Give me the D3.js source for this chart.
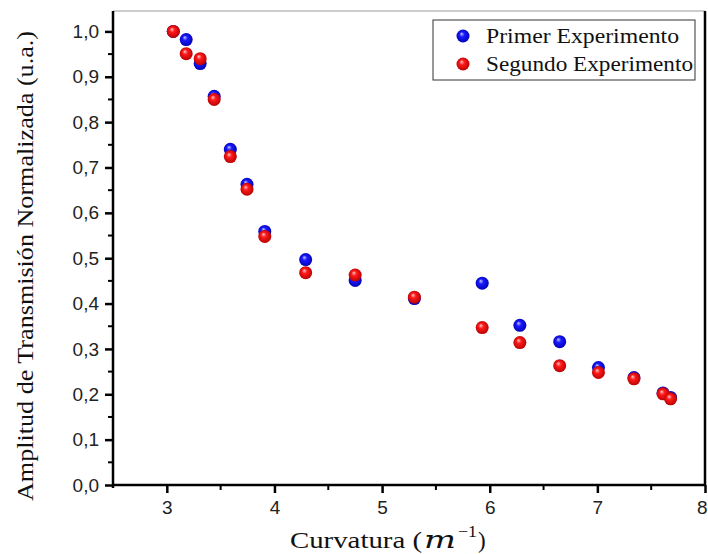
<!DOCTYPE html>
<html>
<head>
<meta charset="utf-8">
<script src="https://cdn.jsdelivr.net/npm/d3@7"></script>
<style>
  body { margin: 0; background: #fff; }
  .tick text { font-family: "Liberation Sans", Arial, sans-serif; font-size: 19px; fill: #222; }
  .axis-label { font-family: "Liberation Serif", "DejaVu Serif", serif; font-size: 23px; fill: #111; }
  .legend-text { font-family: "Liberation Serif", "DejaVu Serif", serif; font-size: 20px; fill: #111; }
</style>
</head>
<body>
<svg width="708" height="554"></svg>
<script>
const curvatura = [3.06, 3.18, 3.31, 3.44, 3.59, 3.745, 3.91, 4.29, 4.75, 5.30, 5.93, 6.28, 6.65, 7.01, 7.34, 7.61, 7.68];
const primer    = [1.000, 0.982, 0.929, 0.857, 0.740, 0.663, 0.559, 0.497, 0.451, 0.411, 0.445, 0.352, 0.316, 0.259, 0.237, 0.203, 0.193];
const segundo   = [1.000, 0.951, 0.940, 0.850, 0.724, 0.652, 0.548, 0.468, 0.463, 0.414, 0.347, 0.314, 0.263, 0.248, 0.234, 0.201, 0.190];
const seriesNames = ['Primer Experimento', 'Segundo Experimento'];
const xTicks = [3, 4, 5, 6, 7, 8];
const yTicks = [0, 0.1, 0.2, 0.3, 0.4, 0.5, 0.6, 0.7, 0.8, 0.9, 1.0];

const margin = { left: 113, right: 3, top: 11, bottom: 69 };
const svg = d3.select('svg');
const width = +svg.attr('width');
const height = +svg.attr('height');
const innerWidth = width - margin.left - margin.right;
const innerHeight = height - margin.top - margin.bottom;

// sphere-like gradients
const defs = svg.append('defs');
const makeGrad = (id, light, mid, dark) => {
  const gr = defs.append('radialGradient')
    .attr('id', id).attr('cx', '50%').attr('cy', '50%').attr('r', '55%')
    .attr('fx', '38%').attr('fy', '32%');
  gr.append('stop').attr('offset', '0%').attr('stop-color', light);
  gr.append('stop').attr('offset', '35%').attr('stop-color', mid);
  gr.append('stop').attr('offset', '100%').attr('stop-color', dark);
};
makeGrad('gBlue', '#c8c8ff', '#1a1aff', '#0000b0');
makeGrad('gRed', '#ffc8c8', '#ff1a1a', '#b00000');
const fills = ['url(#gBlue)', 'url(#gRed)'];

const g = svg.append('g')
  .attr('transform', `translate(${margin.left},${margin.top})`);

const xScale = d3.scaleLinear().domain([2.5, 8]).range([0, innerWidth]);
const yScale = d3.scaleLinear().domain([0, 1.045]).range([innerHeight, 0]);

const fmt = d => d3.format('.1f')(d).replace('.', ',');

// top border (thin grey) and right border
g.append('line')
  .attr('x1', 0).attr('x2', innerWidth).attr('y1', 0).attr('y2', 0)
  .attr('stroke', '#999').attr('stroke-width', 1);
g.append('line')
  .attr('x1', innerWidth).attr('x2', innerWidth).attr('y1', 0).attr('y2', innerHeight)
  .attr('stroke', '#000').attr('stroke-width', 2.5);

// minor ticks
const xMinor = d3.range(3.5, 8, 1);
const yMinor = d3.range(0.05, 1.0, 0.1);
g.selectAll('.xminor').data(xMinor).enter().append('line')
  .attr('x1', d => xScale(d)).attr('x2', d => xScale(d))
  .attr('y1', innerHeight).attr('y2', innerHeight + 5)
  .attr('stroke', '#000').attr('stroke-width', 2);
g.selectAll('.yminor').data(yMinor).enter().append('line')
  .attr('x1', 0).attr('x2', -5)
  .attr('y1', d => yScale(d)).attr('y2', d => yScale(d))
  .attr('stroke', '#000').attr('stroke-width', 2);

const xAxisG = g.append('g')
  .attr('transform', `translate(0,${innerHeight})`)
  .call(d3.axisBottom(xScale).tickValues(xTicks).tickSize(8).tickPadding(8).tickSizeOuter(0).tickFormat(d3.format('d')));
const yAxisG = g.append('g')
  .call(d3.axisLeft(yScale).tickValues(yTicks).tickSize(8).tickPadding(6).tickSizeOuter(0).tickFormat(fmt));

[xAxisG, yAxisG].forEach(a => {
  a.select('.domain').attr('stroke-width', 2.5);
  a.selectAll('.tick line').attr('stroke-width', 2.5);
});
xAxisG.select('.domain').attr('d', `M0,0H${innerWidth}`);
yAxisG.select('.domain').attr('d', `M0,0V${innerHeight + 3}`);
// keep the last x label inside the window
xAxisG.selectAll('.tick text').filter(d => d === 8).attr('text-anchor', 'end').attr('dx', 2);

// points
[primer, segundo].forEach((vals, i) => {
  g.append('g').selectAll('circle')
    .data(vals.map((v, j) => ({ x: curvatura[j], y: v })))
    .enter().append('circle')
    .attr('cx', d => xScale(d.x))
    .attr('cy', d => yScale(d.y))
    .attr('r', 6.5)
    .attr('fill', fills[i]);
});

// axis labels
const xl = svg.append('text')
  .attr('class', 'axis-label')
  .attr('x', 290)
  .attr('y', 548);
xl.append('tspan').attr('textLength', 132).attr('lengthAdjust', 'spacingAndGlyphs').text('Curvatura (');
xl.append('tspan').attr('font-family', '"DejaVu Serif", serif').attr('font-style', 'italic')
  .attr('font-size', 24).attr('dx', 2).attr('textLength', 32).attr('lengthAdjust', 'spacingAndGlyphs').text('m');
xl.append('tspan').attr('font-size', 17).attr('dy', -11).attr('dx', 2).attr('textLength', 19).attr('lengthAdjust', 'spacingAndGlyphs').text('−1');
xl.append('tspan').attr('dy', 11).attr('dx', 1).text(')');

svg.append('text')
  .attr('class', 'axis-label')
  .attr('x', -266)
  .attr('y', 33)
  .attr('transform', 'rotate(-90)')
  .attr('textLength', 470)
  .attr('lengthAdjust', 'spacingAndGlyphs')
  .style('text-anchor', 'middle')
  .text('Amplitud de Transmisión Normalizada (u.a.)');

// legend
const legend = svg.append('g').attr('transform', 'translate(433,20)');
legend.append('rect')
  .attr('width', 262).attr('height', 60)
  .attr('fill', '#fff').attr('stroke', '#333').attr('stroke-width', 1);
const legendWidths = [193, 207];
seriesNames.forEach((name, i) => {
  legend.append('circle')
    .attr('cx', 30).attr('cy', 16 + i * 28).attr('r', 6.5)
    .attr('fill', fills[i]);
  legend.append('text')
    .attr('class', 'legend-text')
    .attr('x', 53).attr('y', 16 + i * 28)
    .attr('dy', '0.35em')
    .attr('textLength', legendWidths[i])
    .attr('lengthAdjust', 'spacingAndGlyphs')
    .text(name);
});
</script>
</body>
</html>
